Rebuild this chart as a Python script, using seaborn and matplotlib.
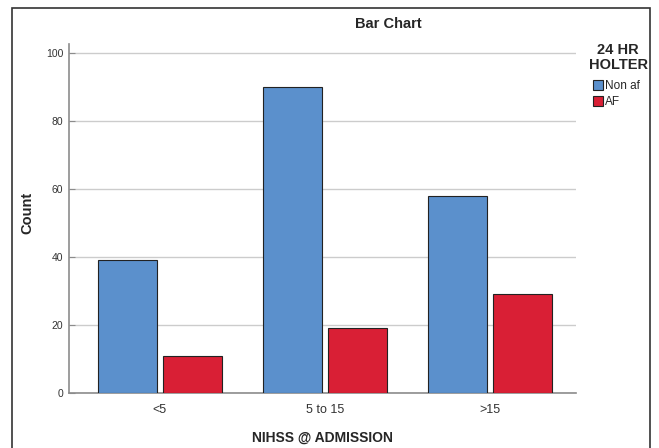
import matplotlib
matplotlib.use("Agg")
import matplotlib.pyplot as plt
import seaborn as sns
import pandas as pd
from matplotlib.patches import Rectangle, Patch

categories = ["<5", "5 to 15", ">15"]
non_af = [39, 90, 58]
af = [11, 19, 29]
hue_labels = ["Non af", "AF"]
legend_title = "24 HR\nHOLTER"
colors = ["#5b90cc", "#d91f35"]

df = pd.DataFrame({
    "NIHSS": categories * 2,
    "Count": non_af + af,
    "Holter": [hue_labels[0]] * 3 + [hue_labels[1]] * 3,
})

sns.set_theme(style="white")
plt.rcParams["font.family"] = ["Liberation Sans", "DejaVu Sans"]

fig = plt.figure(figsize=(6.59, 4.48), dpi=100)
W, H = 659, 448
ax = fig.add_axes([69 / W, 1 - 393 / H, (576 - 69) / W, (393 - 44) / H])

sns.barplot(data=df, x="NIHSS", y="Count", hue="Holter", order=categories,
            hue_order=hue_labels, palette=colors, width=0.788, gap=0.092,
            edgecolor="#222222", linewidth=0.8, saturation=1, ax=ax,
            legend=False, zorder=3)

ax.set_xlim(-0.55, 2.52)
ax.set_ylim(0, 102.6)
ax.set_yticks([0, 20, 40, 60, 80, 100])
ax.yaxis.grid(True, color="#cccccc", linewidth=1, zorder=0)
ax.set_axisbelow(True)
for s in ["top", "right"]:
    ax.spines[s].set_visible(False)
for s in ["left", "bottom"]:
    ax.spines[s].set_color("#8c8c8c")
    ax.spines[s].set_linewidth(1.2)
ax.tick_params(axis="y", labelsize=7.5, labelcolor="#333333", length=4, width=0.8,
               left=True, color="#8c8c8c", direction="in", pad=4)
ax.tick_params(axis="x", labelsize=9, labelcolor="#333333", length=0, pad=8)
ax.set_xlabel("NIHSS @ ADMISSION", fontsize=10, fontweight="bold")
ax.set_ylabel("Count", fontsize=10.5, fontweight="bold")
ax.xaxis.set_label_coords(0.5, (393 - 431) / 349)
ax.yaxis.set_label_coords((34 - 69) / 507, (393 - 213) / 349)

fig.text(388 / W, 1 - 24 / H, "Bar Chart", ha="center", va="center",
         fontsize=10.5, fontweight="bold")

fig.text(618 / W, 1 - 43 / H, legend_title, ha="center", va="top",
         multialignment="center", linespacing=1.05,
         fontsize=10.5, fontweight="bold")

handles = [Patch(facecolor=colors[i], edgecolor="#222222", linewidth=0.8,
                 label=hue_labels[i]) for i in range(2)]
leg = fig.legend(handles=handles, loc="upper left",
                 bbox_to_anchor=(593 / W, 1 - 80 / H), frameon=False,
                 fontsize=8.5, handlelength=0.85, handleheight=0.85,
                 handletextpad=0.2, labelspacing=0.35, borderpad=0,
                 borderaxespad=0)

fig.patches.append(Rectangle((11.5 / W, -0.05), (650 - 11.5) / W, 1.05 - 8.5 / H,
                             transform=fig.transFigure, fill=False,
                             edgecolor="#333333", linewidth=1.2))

fig.savefig("out.png", dpi=100)
